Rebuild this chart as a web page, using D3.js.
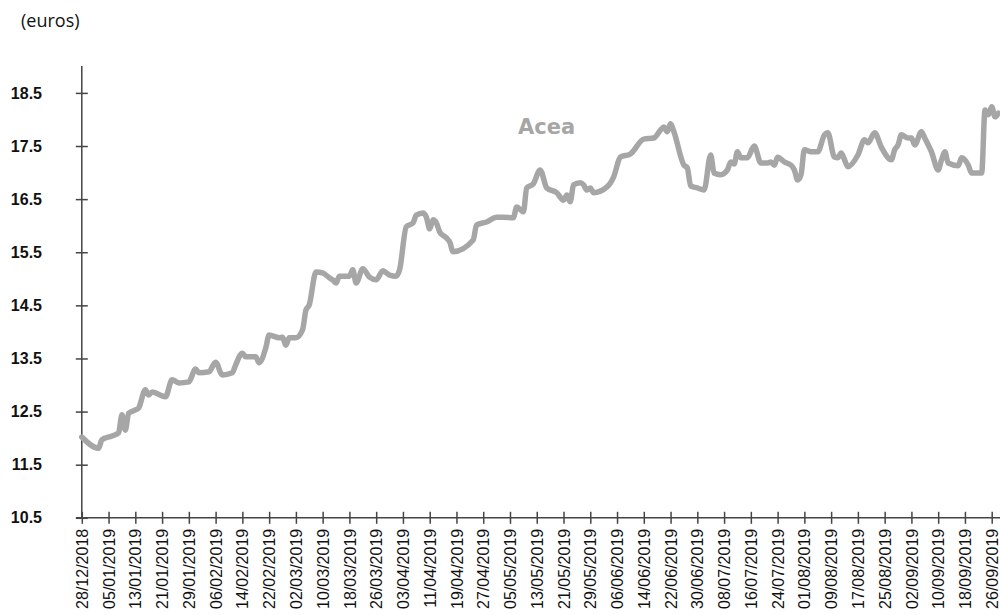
<!DOCTYPE html>
<html>
<head>
<meta charset="utf-8">
<script src="https://cdn.jsdelivr.net/npm/d3@7"></script>
<style>
  html, body { margin: 0; padding: 0; background: #fff; }
  svg { display: block; }
</style>
</head>
<body>
<svg id="chart" width="1000" height="615"></svg>
<script>
// ---- data ----
const dates = [
  "2018-12-28","2019-01-02","2019-01-03","2019-01-06","2019-01-08","2019-01-09","2019-01-10","2019-01-11",
  "2019-01-13","2019-01-14","2019-01-16","2019-01-17","2019-01-18","2019-01-22","2019-01-24","2019-01-26",
  "2019-01-29","2019-01-31","2019-02-01","2019-02-04","2019-02-06","2019-02-08","2019-02-11","2019-02-12",
  "2019-02-14","2019-02-15","2019-02-18","2019-02-19","2019-02-21","2019-02-22","2019-02-25","2019-02-26",
  "2019-02-27","2019-02-28","2019-03-02","2019-03-04","2019-03-05","2019-03-06","2019-03-08","2019-03-10",
  "2019-03-12","2019-03-13","2019-03-14","2019-03-15","2019-03-18","2019-03-19","2019-03-20","2019-03-22",
  "2019-03-24","2019-03-26","2019-03-28","2019-03-30","2019-04-01","2019-04-02","2019-04-04","2019-04-06",
  "2019-04-07","2019-04-09","2019-04-10","2019-04-11","2019-04-12","2019-04-13","2019-04-14","2019-04-16",
  "2019-04-17","2019-04-18","2019-04-24","2019-04-25","2019-04-28","2019-05-01","2019-05-03","2019-05-06",
  "2019-05-07","2019-05-09","2019-05-10","2019-05-12","2019-05-14","2019-05-16","2019-05-19","2019-05-21",
  "2019-05-22","2019-05-23","2019-05-24","2019-05-26","2019-05-27","2019-05-28","2019-05-29","2019-05-30",
  "2019-06-03","2019-06-05","2019-06-07","2019-06-10","2019-06-14","2019-06-17","2019-06-19","2019-06-20",
  "2019-06-21","2019-06-22","2019-06-23","2019-06-26","2019-06-27","2019-06-28","2019-06-30","2019-07-02",
  "2019-07-04","2019-07-05","2019-07-07","2019-07-09","2019-07-10","2019-07-11","2019-07-12","2019-07-13",
  "2019-07-15","2019-07-17","2019-07-19","2019-07-21","2019-07-22","2019-07-23","2019-07-24","2019-07-26",
  "2019-07-28","2019-07-29","2019-07-30","2019-07-31","2019-08-01","2019-08-03","2019-08-05","2019-08-07",
  "2019-08-08","2019-08-10","2019-08-11","2019-08-12","2019-08-13","2019-08-14","2019-08-17","2019-08-19",
  "2019-08-20","2019-08-22","2019-08-24","2019-08-27","2019-08-28","2019-08-29","2019-08-30","2019-09-01",
  "2019-09-02","2019-09-03","2019-09-05","2019-09-06","2019-09-08","2019-09-10","2019-09-11","2019-09-12",
  "2019-09-13","2019-09-16","2019-09-17","2019-09-19","2019-09-20","2019-09-23","2019-09-24","2019-09-25",
  "2019-09-26","2019-09-27","2019-09-28"
];
const prices = [
  12.02,11.81,11.97,12.04,12.10,12.44,12.15,12.47,
  12.53,12.57,12.91,12.81,12.87,12.78,13.10,13.04,
  13.06,13.30,13.23,13.25,13.43,13.19,13.23,13.38,
  13.60,13.53,13.53,13.42,13.70,13.94,13.89,13.90,
  13.75,13.89,13.89,14.04,14.41,14.51,15.13,15.11,
  15.02,14.98,14.92,15.05,15.05,15.17,14.92,15.19,
  15.03,14.98,15.15,15.07,15.05,15.17,15.98,16.05,
  16.20,16.24,16.16,15.94,16.11,16.05,15.88,15.77,
  15.69,15.51,15.73,16.01,16.07,16.16,16.16,16.15,
  16.35,16.26,16.71,16.79,17.05,16.71,16.62,16.48,
  16.58,16.45,16.77,16.81,16.77,16.67,16.71,16.62,
  16.73,16.92,17.29,17.35,17.63,17.65,17.80,17.86,
  17.77,17.92,17.77,17.14,17.09,16.75,16.71,16.67,
  17.33,16.99,16.96,17.05,17.20,17.16,17.39,17.28,
  17.28,17.50,17.18,17.18,17.20,17.14,17.29,17.20,
  17.14,17.05,16.86,16.96,17.43,17.39,17.39,17.71,
  17.75,17.29,17.28,17.37,17.24,17.11,17.33,17.62,
  17.56,17.75,17.48,17.24,17.43,17.52,17.71,17.65,
  17.65,17.52,17.77,17.65,17.39,17.05,17.24,17.39,
  17.18,17.13,17.28,17.14,16.99,16.99,18.18,18.09,
  18.24,18.05,18.12
];
const yTicks = [10.5, 11.5, 12.5, 13.5, 14.5, 15.5, 16.5, 17.5, 18.5];
const xTickLabels = [
  "28/12/2018","05/01/2019","13/01/2019","21/01/2019","29/01/2019","06/02/2019","14/02/2019",
  "22/02/2019","02/03/2019","10/03/2019","18/03/2019","26/03/2019","03/04/2019","11/04/2019",
  "19/04/2019","27/04/2019","05/05/2019","13/05/2019","21/05/2019","29/05/2019","06/06/2019",
  "14/06/2019","22/06/2019","30/06/2019","08/07/2019","16/07/2019","24/07/2019","01/08/2019",
  "09/08/2019","17/08/2019","25/08/2019","02/09/2019","10/09/2019","18/09/2019","26/09/2019"
];
const seriesName = "Acea";
const unitLabel = "(euros)";

// ---- build ----
const parseISO = d3.utcParse("%Y-%m-%d");
const parseTick = d3.utcParse("%d/%m/%Y");
const data = dates.map((d, i) => ({ date: parseISO(d), value: prices[i] }));
const tickDates = xTickLabels.map(parseTick);

const svg = d3.select("#chart");
const axisColor = "#444";
const lineColor = "#a6a6a6";

const x = d3.scaleUtc()
  .domain([tickDates[0], tickDates[tickDates.length - 1]])
  .range([81.8, 991.7]);
const y = d3.scaleLinear()
  .domain([10.5, 18.5])
  .range([517.8, 92.9]);

// unit label
svg.append("text")
  .attr("x", 21).attr("y", 27)
  .attr("font-family", "Open Sans, sans-serif")
  .attr("font-size", 18)
  .attr("fill", "#111")
  .text(unitLabel);

// Y axis
const yAxisG = svg.append("g").attr("transform", "translate(81.8,0)");
yAxisG.call(d3.axisLeft(y).tickValues(yTicks).tickFormat(d3.format(".1f")).tickSize(6).tickPadding(0));
yAxisG.select(".domain").remove();
yAxisG.selectAll(".tick line")
  .attr("x1", -6).attr("x2", 6)
  .attr("stroke", axisColor).attr("stroke-width", 1.5);
yAxisG.selectAll(".tick text")
  .attr("x", 42 - 81.8)
  .attr("text-anchor", "end")
  .attr("font-family", "Liberation Sans, Arial, sans-serif")
  .attr("font-weight", "bold")
  .attr("font-size", 16)
  .attr("fill", "#111");
yAxisG.append("line")
  .attr("x1", 0).attr("x2", 0)
  .attr("y1", 66).attr("y2", y.range()[0])
  .attr("stroke", axisColor).attr("stroke-width", 1.5);

// X axis
const x0 = y.range()[0];
const xAxisG = svg.append("g").attr("transform", `translate(0,${x0})`);
xAxisG.call(d3.axisBottom(x).tickValues(tickDates).tickFormat((d, i) => xTickLabels[i]).tickSize(6));
xAxisG.select(".domain").remove();
xAxisG.selectAll(".tick line")
  .attr("y1", -6).attr("y2", 6)
  .attr("stroke", axisColor).attr("stroke-width", 1.5);
xAxisG.selectAll(".tick text")
  .attr("transform", "rotate(-90)")
  .attr("x", -11).attr("y", 0).attr("dy", "0.35em")
  .attr("text-anchor", "end")
  .attr("font-family", "Liberation Sans, Arial, sans-serif")
  .attr("font-size", 16)
  .attr("fill", "#111");
xAxisG.append("line")
  .attr("x1", 76).attr("x2", 1000)
  .attr("y1", 0).attr("y2", 0)
  .attr("stroke", axisColor).attr("stroke-width", 1.5);

// series line
const line = d3.line()
  .x(d => x(d.date))
  .y(d => y(d.value))
  .curve(d3.curveMonotoneX);
svg.append("path")
  .datum(data)
  .attr("d", line)
  .attr("fill", "none")
  .attr("stroke", lineColor)
  .attr("stroke-width", 5.5)
  .attr("stroke-linejoin", "round")
  .attr("stroke-linecap", "round");

// series label
svg.append("text")
  .attr("x", 518).attr("y", 134)
  .attr("font-family", "DejaVu Sans, sans-serif")
  .attr("font-weight", "bold")
  .attr("font-size", 21)
  .attr("fill", lineColor)
  .text(seriesName);
</script>
</body>
</html>
